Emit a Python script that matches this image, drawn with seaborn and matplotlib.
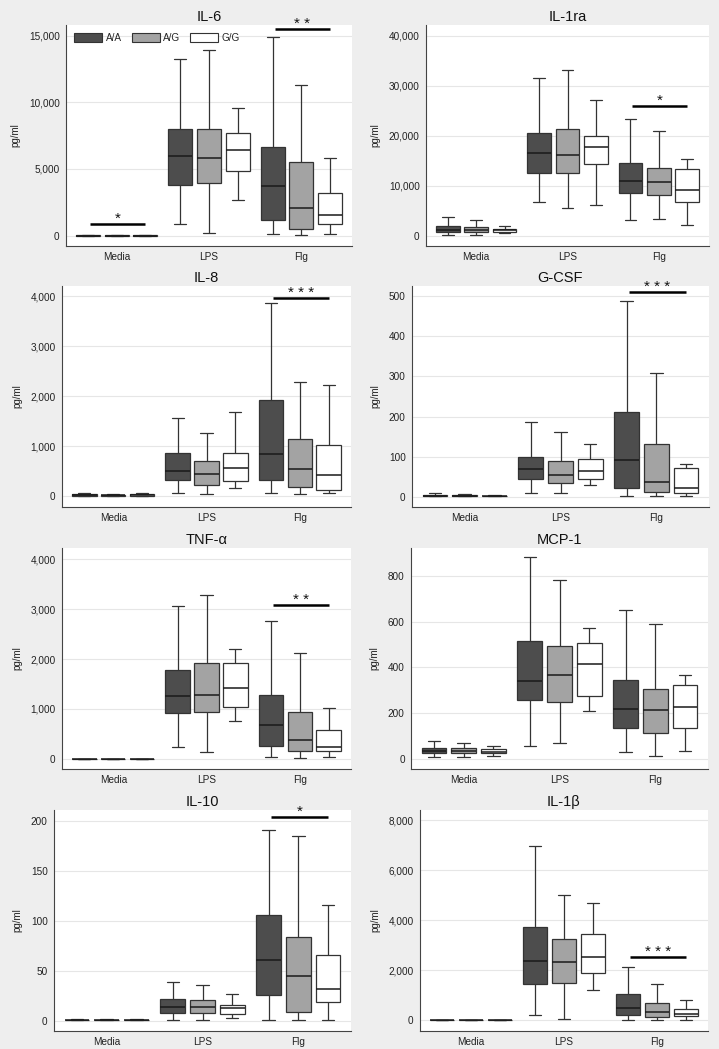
import numpy as np
import pandas as pd
import matplotlib
matplotlib.use("Agg")
import matplotlib.pyplot as plt
import seaborn as sns
from matplotlib.patches import Patch
from matplotlib.ticker import FuncFormatter

STIMULI = ["Media", "LPS", "Flg"]
GENOTYPES = ["A/A", "A/G", "G/G"]
PALETTE = {"A/A": "#4d4d4d", "A/G": "#a3a3a3", "G/G": "#ffffff"}

# Each row: [whisker low, Q1, median, Q3, whisker high]
# order: Media A/A, A/G, G/G, LPS A/A, A/G, G/G, Flg A/A, A/G, G/G
IL6 = [
    [0, 5, 10, 20, 40], [0, 5, 10, 20, 40], [0, 5, 10, 20, 40],
    [850, 3780, 5990, 7990, 13220], [200, 3930, 5810, 7990, 13900], [2680, 4880, 6410, 7710, 9590],
    [130, 1150, 3730, 6660, 14930], [80, 530, 2050, 5510, 11270], [130, 900, 1580, 3180, 5840],
]
IL1RA = [
    [200, 800, 1200, 1940, 3740], [200, 800, 1200, 1800, 3200], [530, 730, 1070, 1400, 1940],
    [6740, 12550, 16600, 20600, 31600], [5540, 12550, 16200, 21300, 33100], [6080, 14400, 17800, 20000, 27100],
    [3070, 8550, 11000, 14560, 23400], [3400, 8080, 10800, 13600, 21000], [2200, 6740, 9150, 13300, 15400],
]
IL8 = [
    [5, 15, 25, 40, 65], [5, 12, 20, 35, 55], [5, 15, 25, 40, 65],
    [67, 320, 514, 861, 1576], [40, 234, 441, 715, 1262], [174, 300, 561, 875, 1683],
    [67, 334, 841, 1930, 3860], [53, 187, 541, 1142, 2290], [67, 120, 421, 1035, 2224],
]
GCSF = [
    [0.5, 1.5, 2.5, 4, 9], [0.5, 1, 2, 3, 6], [0.5, 1, 1.5, 2.5, 4],
    [9, 43, 69, 100, 187], [9, 34, 55, 89, 162], [28, 43, 64, 94, 131],
    [2, 22, 92, 211, 488], [2, 12, 37, 131, 309], [2, 9, 21, 71, 82],
]
TNFA = [
    [0, 2, 4, 6, 10], [0, 2, 4, 6, 10], [0, 2, 4, 6, 10],
    [247, 922, 1269, 1783, 3052], [134, 935, 1275, 1917, 3285], [755, 1048, 1416, 1917, 2204],
    [47, 267, 681, 1289, 2765], [27, 167, 387, 948, 2130], [33, 160, 247, 581, 1028],
]
MCP1 = [
    [9, 25, 35, 48, 78], [9, 25, 35, 47, 69], [15, 24, 32, 44, 57],
    [56, 256, 341, 516, 881], [69, 251, 366, 493, 782], [210, 274, 415, 507, 572],
    [31, 134, 219, 343, 649], [15, 115, 216, 307, 588], [35, 134, 226, 321, 369],
]
IL10 = [
    [0.2, 0.4, 0.6, 0.8, 1.2], [0.2, 0.4, 0.6, 0.8, 1.2], [0.2, 0.4, 0.6, 0.8, 1.2],
    [0.3, 7.7, 13.7, 21.4, 39], [0.3, 7.7, 13.7, 20.4, 36], [2.7, 6.7, 12.7, 16, 26.4],
    [0.3, 26, 61, 106, 191], [0.3, 9, 44.5, 84, 185], [0.7, 19, 31.4, 65.5, 116],
]
IL1B = [
    [0, 2, 5, 8, 12], [0, 2, 5, 8, 12], [0, 2, 5, 8, 12],
    [201, 1448, 2373, 3753, 6970], [40, 1501, 2346, 3257, 5027], [1220, 1877, 2533, 3472, 4678],
    [27, 228, 509, 1032, 2131], [13, 147, 322, 684, 1448], [27, 161, 241, 456, 818],
]

# significance annotations: (stimulus, y value, label)
SIG = {
    "IL-6": [("Media", 900, "*"), ("Flg", 15480, "* *")],
    "IL-1ra": [("Flg", 26000, "*")],
    "IL-8": [("Flg", 3973, "* * *")],
    "G-CSF": [("Flg", 510, "* * *")],
    "TNF-α": [("Flg", 3078, "* *")],
    "MCP-1": [],
    "IL-10": [("Flg", 204, "*")],
    "IL-1β": [("Flg", 2533, "* * *")],
}

PANELS = [
    # title, stats, ticks, ylim, axes rect in px (left, top, right, bottom)
    ("IL-6", IL6, [0, 5000, 10000, 15000], (-776, 15800), (66, 25, 352, 246)),
    ("IL-1ra", IL1RA, [0, 10000, 20000, 30000, 40000], (-2070, 42140), (426, 25, 709, 246)),
    ("IL-8", IL8, [0, 1000, 2000, 3000, 4000], (-214, 4207), (62, 286, 351, 507)),
    ("G-CSF", GCSF, [0, 100, 200, 300, 400, 500], (-25.9, 526), (412, 286, 709, 507)),
    ("TNF-α", TNFA, [0, 1000, 2000, 3000, 4000], (-200, 4220), (62, 548, 351, 769)),
    ("MCP-1", MCP1, [0, 200, 400, 600, 800], (-44, 922), (411, 548, 708, 769)),
    ("IL-10", IL10, [0, 50, 100, 150, 200], (-10.4, 211), (54, 810, 351, 1031)),
    ("IL-1β", IL1B, [0, 2000, 4000, 6000, 8000], (-430, 8420), (420, 810, 708, 1031)),
]

sns.set_style("white")
plt.rcParams["font.family"] = ["Liberation Sans", "DejaVu Sans"]

W, H = 719, 1049
fig = plt.figure(figsize=(W / 100, H / 100), dpi=100)
fig.patch.set_facecolor("#eeeeee")

EDGE = "#333333"

for title, stats, ticks, ylim, (l, t, r, b) in PANELS:
    ax = fig.add_axes([l / W, 1 - b / H, (r - l) / W, (b - t) / H])
    rows = []
    k = 0
    for s in STIMULI:
        for g in GENOTYPES:
            for v in stats[k]:
                rows.append({"stim": s, "geno": g, "value": v})
            k += 1
    df = pd.DataFrame(rows)
    sns.boxplot(data=df, x="stim", y="value", hue="geno", order=STIMULI,
                hue_order=GENOTYPES, palette=PALETTE, saturation=1,
                whis=np.inf, width=0.93, gap=0.16, linecolor=EDGE,
                linewidth=0.9, legend=False, ax=ax,
                medianprops=dict(color="#1a1a1a", linewidth=1.1))
    ax.set_xlim(-0.55, 2.55)
    ax.set_ylim(*ylim)
    ax.set_yticks(ticks)
    ax.yaxis.set_major_formatter(FuncFormatter(lambda v, p: f"{v:,.0f}"))
    ax.yaxis.grid(True, color="#e6e6e6", linewidth=0.8)
    ax.set_axisbelow(True)
    ax.set_facecolor("white")
    for side in ["top", "right"]:
        ax.spines[side].set_visible(False)
    for side in ["left", "bottom"]:
        ax.spines[side].set_color("#444444")
        ax.spines[side].set_linewidth(0.8)
    ax.tick_params(axis="y", length=3, width=0.7, color="#444444",
                   labelsize=7.2, pad=1.5, labelcolor="#222222")
    ax.tick_params(axis="x", length=0, labelsize=7.2, pad=4, labelcolor="#222222")
    ax.set_xlabel("")
    ax.set_ylabel("pg/ml", fontsize=7, color="#222222", labelpad=6)
    ax.set_title(title, fontsize=10.5, pad=3, color="#111111")

    for stim, yv, lab in SIG[title]:
        xc = STIMULI.index(stim)
        ax.plot([xc - 0.29, xc + 0.31], [yv, yv], color="black", lw=1.8,
                solid_capstyle="butt", clip_on=False)
        ax.annotate(lab, (xc + 0.01, yv), xytext=(0, -1.5),
                    textcoords="offset points", ha="center", va="bottom",
                    fontsize=11, color="#111111", annotation_clip=False)

    if title == "IL-6":
        handles = [Patch(facecolor=PALETTE[g], edgecolor=EDGE, linewidth=0.8)
                   for g in GENOTYPES]
        ax.legend(handles, GENOTYPES, loc="upper left", ncol=3, frameon=False,
                  fontsize=7.2, handlelength=2.8, handleheight=0.9,
                  columnspacing=1.0, handletextpad=0.35,
                  borderaxespad=0.4, bbox_to_anchor=(0.0, 1.0))

fig.savefig("out.png", dpi=100, facecolor=fig.get_facecolor())
